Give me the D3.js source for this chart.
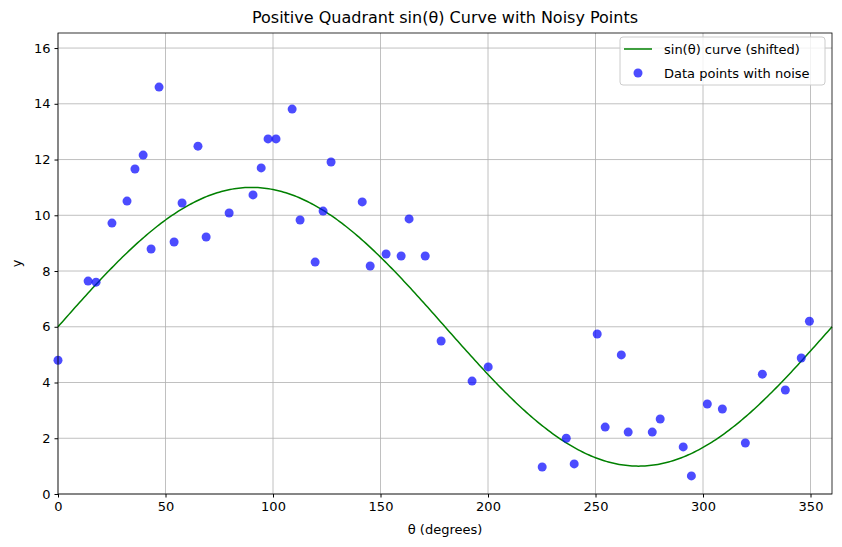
<!DOCTYPE html>
<html><head><meta charset="utf-8">
<script src="https://cdn.jsdelivr.net/npm/d3@7"></script>
<style>body{margin:0;background:#fff}text{font-family:"DejaVu Sans",sans-serif}</style>
</head><body><svg id="main" width="842" height="547"></svg>
<script>
const pointX = [0,14,17.7,25.1,32.1,35.8,39.6,43.3,47,54,57.7,65.1,68.9,79.6,90.7,94.5,97.7,101.4,108.9,112.6,119.6,123.3,127,141.5,145.2,152.6,159.6,163.3,170.8,178.2,192.6,200.1,225.2,236.4,240.1,250.8,254.5,262,265.2,276.4,280.1,290.8,294.6,302,309,319.7,327.6,338.3,345.7,349.5];
const pointY = [4.8,7.64,7.6,9.72,10.51,11.66,12.16,8.79,14.6,9.04,10.44,12.48,9.22,10.08,10.73,11.7,12.74,12.74,13.81,9.83,8.32,10.15,11.91,10.48,8.18,8.61,8.54,9.87,8.54,5.49,4.05,4.56,0.97,2.0,1.08,5.74,2.4,4.99,2.22,2.22,2.69,1.69,0.65,3.23,3.05,1.83,4.3,3.73,4.88,6.2];
const xTicks = [0,50,100,150,200,250,300,350];
const yTicks = [0,2,4,6,8,10,12,14,16];

const svg = d3.select('#main');
const L = 58, R = 832, T = 33, B = 494;
const x = d3.scaleLinear().domain([0,360]).range([L,R]);
const y = d3.scaleLinear().domain([0,16.54]).range([B,T]);

// grid
svg.append('g').selectAll('line').data(xTicks).enter().append('line')
  .attr('x1', d => x(d)).attr('x2', d => x(d)).attr('y1', T).attr('y2', B)
  .attr('stroke', '#b0b0b0').attr('stroke-width', 0.8);
svg.append('g').selectAll('line').data(yTicks).enter().append('line')
  .attr('y1', d => y(d)).attr('y2', d => y(d)).attr('x1', L).attr('x2', R)
  .attr('stroke', '#b0b0b0').attr('stroke-width', 0.8);

// curve
const curve = d3.range(0, 360.01, 1).map(t => [t, 6 + 5*Math.sin(t*Math.PI/180)]);
svg.append('path').datum(curve)
  .attr('d', d3.line().x(d => x(d[0])).y(d => y(d[1])))
  .attr('fill', 'none').attr('stroke', 'green').attr('stroke-width', 1.5);

// points
svg.append('g').selectAll('circle').data(pointX).enter().append('circle')
  .attr('cx', d => x(d)).attr('cy', (d, i) => y(pointY[i])).attr('r', 4.5)
  .attr('fill', 'blue').attr('fill-opacity', 0.7);

// axes
const xa = svg.append('g').attr('transform', `translate(0,${B})`)
  .call(d3.axisBottom(x).tickValues(xTicks).tickSize(3.5).tickPadding(4));
const ya = svg.append('g').attr('transform', `translate(${L},0)`)
  .call(d3.axisLeft(y).tickValues(yTicks).tickSize(3.5).tickPadding(4));
[xa, ya].forEach(a => { a.select('.domain').remove(); a.selectAll('text').style('font-size', '13px').style('font-family', 'DejaVu Sans').attr('fill', '#000'); });
svg.append('rect').attr('x', L).attr('y', T).attr('width', R-L).attr('height', B-T)
  .attr('fill', 'none').attr('stroke', '#000').attr('stroke-width', 0.8);

svg.append('text').attr('x', (L+R)/2).attr('y', 23).attr('text-anchor', 'middle')
  .style('font-size', '16px').text('Positive Quadrant sin(θ) Curve with Noisy Points');
svg.append('text').attr('x', (L+R)/2).attr('y', 534).attr('text-anchor', 'middle')
  .style('font-size', '13px').text('θ (degrees)');
svg.append('text').attr('transform', `translate(21,${(T+B)/2}) rotate(-90)`).attr('text-anchor', 'middle')
  .style('font-size', '13px').text('y');

// legend
const lg = svg.append('g');
lg.append('rect').attr('x', 620).attr('y', 37).attr('width', 205).attr('height', 48).attr('rx', 3)
  .attr('fill', '#fff').attr('fill-opacity', 0.8).attr('stroke', '#ccc');
lg.append('line').attr('x1', 624).attr('x2', 652).attr('y1', 49).attr('y2', 49).attr('stroke', 'green').attr('stroke-width', 1.5);
lg.append('circle').attr('cx', 638).attr('cy', 73).attr('r', 4.5).attr('fill', 'blue').attr('fill-opacity', 0.7);
lg.append('text').attr('x', 664).attr('y', 54).style('font-size', '13px').text('sin(θ) curve (shifted)');
lg.append('text').attr('x', 664).attr('y', 78).style('font-size', '13px').text('Data points with noise');
</script></body></html>
